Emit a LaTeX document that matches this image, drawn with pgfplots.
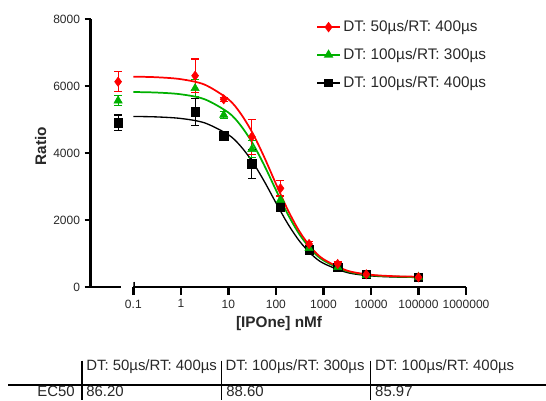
\documentclass[border=0pt]{standalone}
\usepackage{fontspec}
\setmainfont{Liberation Sans}
\usepackage{pgfplots}
\pgfplotsset{compat=1.18}
\usepackage{pgfplotstable}

\definecolor{cRed}{RGB}{255,0,0}
\definecolor{cGreen}{RGB}{0,176,0}
\definecolor{txt}{RGB}{40,40,40}

% x = 0.048 stands for the zero-concentration point
\pgfplotstableread{
x y e
0.048 6128 300
2 6307 500
8 5603 60
31.25 4487 520
125 2946 230
500 1284 80
2000 687 60
8000 379 40
100000 290 40
}\redpts
\pgfplotstableread{
x y e
0.048 5561 150
2 5931 250
8 5134 100
31.25 4110 250
125 2600 120
500 1155 60
2000 588 50
8000 349 40
100000 300 30
}\greenpts
\pgfplotstableread{
x y e
0.048 4905 230
2 5233 400
8 4507 60
31.25 3672 420
125 2397 100
500 1104 60
2000 588 50
8000 379 40
100000 290 30
}\blackpts

\begin{document}
\begin{tikzpicture}
\useasboundingbox (0,0) rectangle (409.5pt,300pt);

\begin{axis}[
    name=main,
    at={(68pt,84.75pt)}, anchor=south west,
    scale only axis,
    width=281.5pt, height=201pt,
    xmode=log, xmin=0.0127, xmax=1000000,
    ymin=0, ymax=8000,
    axis x line=none, axis y line=left,
    axis line style={-, line width=1.8pt, black},
    xtick=\empty,
    ytick={0,2000,4000,6000,8000},
    scaled y ticks=false,
    tick align=outside, major tick length=4.5pt,
    tick style={line width=1.8pt, black},
    y tick label style={font=\fontsize{9}{10}\selectfont, text=txt,
        /pgf/number format/1000 sep={}, /pgf/number format/assume math mode=true},
    legend style={draw=none, fill=none, at={(0.59,1.015)}, anchor=north west,
        font=\fontsize{11.5}{13}\selectfont, text=txt, row sep=7pt},
    legend cell align=left,
]
\addlegendimage{cRed, line width=1.2pt, mark=diamond*, mark size=3pt}
\addlegendentry{DT: 50µs/RT: 400µs}
\addlegendimage{cGreen, line width=1.2pt, mark=triangle*, mark size=3pt}
\addlegendentry{DT: 100µs/RT: 300µs}
\addlegendimage{black, line width=1.2pt, mark=square*, mark size=2.5pt}
\addlegendentry{DT: 100µs/RT: 400µs}

% fitted curves
\addplot[forget plot, black, line width=1pt, smooth, no marks] coordinates {
(0.1,5092) (0.3162,5077) (1,5031) (3.162,4900) (10,4547) (17.78,4219)
(31.62,3756) (56.23,3170) (100,2518) (177.8,1890) (316.2,1364) (562.3,973)
(1000,707) (3162,432) (10000,332) (31623,298) (100000,286)};
\addplot[forget plot, cGreen, line width=1.3pt, smooth, no marks] coordinates {
(0.1,5821) (0.3162,5804) (1,5753) (3.162,5606) (10,5210) (17.78,4840)
(31.62,4317) (56.23,3649) (100,2901) (177.8,2175) (316.2,1564) (562.3,1106)
(1000,794) (3162,470) (10000,352) (31623,311) (100000,297)};
\addplot[forget plot, cRed, line width=1.3pt, smooth, no marks] coordinates {
(0.1,6280) (0.3162,6261) (1,6204) (3.162,6042) (10,5605) (17.78,5197)
(31.62,4622) (56.23,3894) (100,3084) (177.8,2304) (316.2,1650) (562.3,1163)
(1000,832) (3162,489) (10000,365) (31623,322) (100000,307)};

\addplot[forget plot, only marks, black, mark=square*, mark size=3.2pt,
    error bars/.cd, y dir=both, y explicit,
    error bar style={line width=0.8pt, black},
    error mark options={rotate=90, mark size=3pt, line width=0.8pt, black}]
    table[x=x, y=y, y error=e] {\blackpts};
\addplot[forget plot, only marks, cGreen, mark=triangle*, mark size=3.6pt,
    error bars/.cd, y dir=both, y explicit,
    error bar style={line width=0.8pt, cGreen},
    error mark options={rotate=90, mark size=3pt, line width=0.8pt, cGreen}]
    table[x=x, y=y, y error=e] {\greenpts};
\addplot[forget plot, only marks, cRed, mark=diamond*, mark size=3.5pt,
    error bars/.cd, y dir=both, y explicit,
    error bar style={line width=0.8pt, cRed},
    error mark options={rotate=90, mark size=3pt, line width=0.8pt, cRed}]
    table[x=x, y=y, y error=e] {\redpts};

% short x-axis stub under the zero point
\draw[line width=1.8pt] (rel axis cs:0,0) -- (axis cs:0.054,0);
\end{axis}

\begin{axis}[
    at={(100pt,84.75pt)}, anchor=south west,
    scale only axis,
    width=249.5pt, height=201pt,
    xmode=log, xmin=0.1, xmax=1000000,
    ymin=0, ymax=8000,
    axis x line=bottom, axis y line=none,
    axis line style={-, line width=1.8pt, black},
    xminorticks=false,
    xtick={0.1,1,10,100,1000,10000,100000,1000000},
    xticklabels={0.1,1,10,100,1000,10000,100000,1000000},
    ytick=\empty,
    tick align=outside, major tick length=6pt,
    tick style={line width=1.8pt, black},
    x tick label style={font=\fontsize{9}{10}\selectfont, text=txt},
]
\draw[line width=1.8pt] ([yshift=4pt]axis cs:0.1,0) -- (axis cs:0.1,0);
\end{axis}

\node[rotate=90, font=\bfseries\fontsize{11.5}{13}\selectfont, text=txt] at (30.4pt,190.5pt) {Ratio};
\node[font=\bfseries\fontsize{11.5}{13}\selectfont, text=txt] at (209.3pt,57pt) {[IPOne] nMf};

% EC50 table
\draw[line width=1.3pt] (6pt,11pt) -- (409.5pt,11pt);
\draw[line width=1.3pt] (61.3pt,29.5pt) -- (61.3pt,0pt);
\draw[line width=0.7pt] (166.3pt,29.5pt) -- (166.3pt,0pt);
\draw[line width=0.7pt] (278pt,29.5pt) -- (278pt,0pt);
\begin{scope}[every node/.style={font=\fontsize{11.2}{12}\selectfont, text=txt, inner sep=0pt}]
\node[anchor=west] at (64.5pt,24.8pt) {DT: 50µs/RT: 400µs};
\node[anchor=west] at (169pt,24.8pt) {DT: 100µs/RT: 300µs};
\node[anchor=west] at (281.2pt,24.8pt) {DT: 100µs/RT: 400µs};
\node[anchor=east] at (56.3pt,6.2pt) {EC50};
\node[anchor=west] at (64.5pt,6.2pt) {86.20};
\node[anchor=west] at (169.5pt,6.2pt) {88.60};
\node[anchor=west] at (281.2pt,6.2pt) {85.97};
\end{scope}
\end{tikzpicture}
\end{document}
